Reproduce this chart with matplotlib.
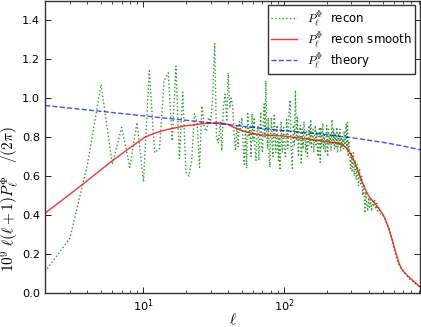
import matplotlib
matplotlib.use('Agg')
import matplotlib.pyplot as plt
from matplotlib.font_manager import FontProperties
import numpy as np

# noisy reconstruction (three pieces)
ell_low = list(range(2, 61))
p_low = [0.11, 0.28, 0.66, 1.07, 0.66, 0.85, 0.645, 0.875, 0.57, 1.14, 0.72,
         0.74, 1.09, 1.13, 0.78, 1.165, 0.69, 1.03, 0.62, 0.60, 0.68, 0.92,
         0.88, 0.645, 0.96, 0.85, 0.83, 0.90, 0.88, 1.00, 1.28, 0.80, 0.77,
         0.88, 0.73, 0.96, 1.02, 0.88, 1.13, 0.95, 1.00, 0.96, 0.82, 0.73,
         0.86, 0.75, 0.88, 0.84, 0.90, 0.76, 0.66, 0.85, 0.64, 0.92, 0.80,
         0.86, 0.70, 0.92, 0.78]

ell_mid = [61, 62, 63, 64, 65, 66, 67, 68, 69, 70,
           71, 72, 73, 74, 75, 76, 77, 78, 79, 80,
           81, 82, 83, 84, 85, 86, 87, 88, 89, 90,
           91, 92, 93, 94, 95, 96, 97, 98, 99, 100,
           102, 104, 106, 108, 110, 112, 114, 116, 118, 120,
           122, 124, 126, 128, 130, 132, 134, 136, 138, 140,
           142, 144, 146, 148, 150, 152, 154, 156, 158, 160,
           162, 164, 166, 168, 170, 172, 174, 176, 178, 180,
           182, 184, 186, 188, 190, 192, 194, 196, 198, 200,
           203, 206, 209, 212, 215, 218, 221, 224, 227, 230,
           233, 236, 239, 242, 245, 248, 251, 254, 257, 260,
           263, 266, 269, 272, 275, 278, 281, 284, 287, 290]
p_mid = [0.90, 0.74, 0.68, 0.82, 0.86, 0.68, 0.80, 0.93, 0.76, 0.72,
         0.88, 0.97, 0.80, 1.09, 0.84, 0.74, 0.90, 0.70, 0.645, 0.82,
         0.90, 0.76, 0.70, 0.86, 0.92, 0.78, 0.72, 0.84, 0.86, 0.74,
         0.68, 0.80, 0.63, 0.78, 0.88, 0.76, 0.72, 0.84, 0.85, 0.74,
         0.70, 0.89, 0.74, 0.93, 0.99, 0.72, 0.64, 0.86, 0.76, 1.04,
         0.78, 0.90, 0.70, 0.82, 0.86, 0.66, 0.84, 0.74, 0.88, 0.80,
         0.72, 0.83, 0.70, 0.78, 0.86, 0.76, 0.89, 0.74, 0.82, 0.84,
         0.72, 0.80, 0.86, 0.76, 0.83, 0.74, 0.70, 0.81, 0.85, 0.67,
         0.85, 0.75, 0.79, 0.87, 0.74, 0.82, 0.76, 0.72, 0.80, 0.86,
         0.70, 0.84, 0.76, 0.82, 0.73, 0.89, 0.76, 0.84, 0.74, 0.82,
         0.75, 0.85, 0.72, 0.82, 0.76, 0.84, 0.73, 0.80, 0.75, 0.79,
         0.74, 0.83, 0.75, 0.80, 0.867, 0.74, 0.875, 0.70, 0.78, 0.73]

ell_high = [293, 296, 299, 304, 309, 314, 319, 324, 330, 336,
            342, 348, 354, 360, 366, 373, 379, 385, 391, 397,
            403, 410, 417, 424, 431, 438, 446, 454, 462, 470,
            480, 490, 500, 512, 525, 540, 560, 580, 600, 620,
            640, 660, 680, 700, 730, 760, 790, 820, 850, 880,
            920]
p_high = [0.68, 0.63, 0.72, 0.62, 0.72, 0.60, 0.68, 0.58, 0.66, 0.55,
          0.64, 0.56, 0.60, 0.50, 0.56, 0.41, 0.52, 0.46, 0.42, 0.49,
          0.44, 0.48, 0.42, 0.47, 0.45, 0.48, 0.43, 0.46, 0.42, 0.44,
          0.41, 0.40, 0.40, 0.39, 0.37, 0.35, 0.32, 0.28, 0.23, 0.19,
          0.16, 0.14, 0.12, 0.11, 0.095, 0.08, 0.065, 0.06, 0.05, 0.04,
          0.03]

# smoothed reconstruction
ell_smooth = [2, 2.63, 3.44, 4.53, 5.94, 7.8, 10.2, 12.1, 14.5, 20, 26, 32.7,
              37, 40, 43, 47, 52, 58, 66.5, 80, 100, 128, 177, 232, 255, 273,
              290, 305, 320, 340, 360, 380, 400, 423, 445, 472, 500, 526, 555,
              586, 620, 654, 680, 710, 760, 813, 870, 922]
p_smooth = [0.410, 0.475, 0.540, 0.608, 0.676, 0.739, 0.799, 0.821, 0.838,
            0.858, 0.868, 0.873, 0.871, 0.865, 0.853, 0.84, 0.829, 0.82,
            0.812, 0.808, 0.805, 0.795, 0.781, 0.771, 0.762, 0.747, 0.725,
            0.696, 0.66, 0.61, 0.565, 0.525, 0.495, 0.474, 0.455, 0.431,
            0.405, 0.372, 0.325, 0.269, 0.205, 0.150, 0.125, 0.107, 0.085,
            0.065, 0.047, 0.031]

# theory curve
ell_theory = [2, 5, 10, 30, 100, 200, 300, 500, 700, 920]
p_theory = [0.962, 0.932, 0.909, 0.873, 0.833, 0.812, 0.797, 0.773, 0.754, 0.735]

ell_recon = ell_low + ell_mid + ell_high
p_recon = p_low + p_mid + p_high

plt.rcParams['font.size'] = 8.2
plt.rcParams['xtick.direction'] = 'in'
plt.rcParams['ytick.direction'] = 'in'
plt.rcParams['xtick.top'] = True
plt.rcParams['ytick.right'] = True

fig = plt.figure(figsize=(4.21, 3.27), dpi=100)
ax = fig.add_axes([0.107, 0.104, 0.891, 0.894])

ax.plot(ell_recon, p_recon, ':', color='g', alpha=0.8, lw=1.0,
        label=r'$P_\ell^\Phi$  recon')
ax.plot(ell_smooth, p_smooth, '-', color='r', alpha=0.8, lw=1.0,
        label=r'$P_\ell^\Phi$  recon smooth')
ax.plot(ell_theory, p_theory, '--', color='b', alpha=0.7, lw=1.0,
        label=r'$P_\ell^\Phi$  theory')

ax.set_xscale('log')
ax.set_xlim(2, 922)
ax.set_ylim(0, 1.5)
ax.set_yticks(np.arange(0, 1.41, 0.2))
ax.set_yticklabels(['%.1f' % v for v in np.arange(0, 1.41, 0.2)])
ax.tick_params(which='major', length=4, width=0.6)
ax.tick_params(which='minor', length=2, width=0.5)
for s in ax.spines.values():
    s.set_linewidth(1.0)
    s.set_color('0.2')

ax.set_xlabel(r'$\ell$', fontsize=11, math_fontfamily='cm')
ax.xaxis.set_label_coords(0.5, -0.066)
ax.set_ylabel(r'$10^9\;\ell(\ell+1)P_\ell^\Phi\quad/(2\pi)$', fontsize=11,
              math_fontfamily='cm')
ax.yaxis.set_label_coords(-0.064, 0.32)

leg = ax.legend(loc='upper right', prop=FontProperties(size=8.5, math_fontfamily='cm'),
                fancybox=False, framealpha=1, edgecolor='0.2', borderaxespad=0.4,
                handlelength=2.2, labelspacing=0.1, borderpad=0.3)
leg.get_frame().set_linewidth(1.0)

fig.savefig('out.png', dpi=100)
